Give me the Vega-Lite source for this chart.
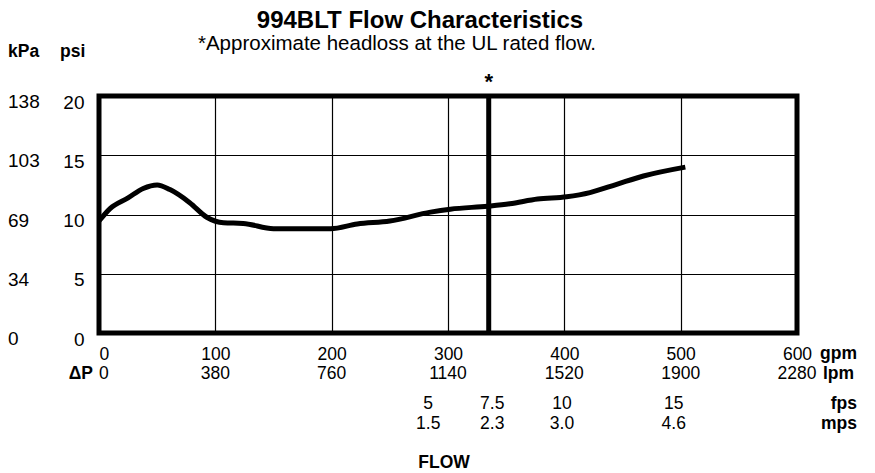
{
  "$schema": "https://vega.github.io/schema/vega-lite/v6.json",
  "width": 698,
  "height": 237,
  "autosize": {"type": "none"},
  "padding": {"left": 99, "top": 96, "right": 78, "bottom": 140},
  "background": "white",
  "title": {
    "text": "994BLT Flow Characteristics",
    "frame": "group",
    "anchor": "middle",
    "dx": -28,
    "offset": -18,
    "baseline": "alphabetic",
    "font": "Liberation Sans",
    "fontSize": 24,
    "fontWeight": "bold",
    "color": "black"
  },
  "config": {
    "view": {"stroke": "black", "strokeWidth": 5},
    "text": {"font": "Liberation Sans", "fontSize": 17.5, "color": "black", "baseline": "alphabetic"}
  },
  "layer": [
    {
      "data": {"values": [
        {"gpm": 0, "psi": 9.45},
        {"gpm": 9.5, "psi": 10.5},
        {"gpm": 25, "psi": 11.4},
        {"gpm": 38, "psi": 12.2},
        {"gpm": 50, "psi": 12.5},
        {"gpm": 61, "psi": 12.1},
        {"gpm": 78, "psi": 11.0},
        {"gpm": 93, "psi": 9.75},
        {"gpm": 107, "psi": 9.3},
        {"gpm": 124, "psi": 9.25},
        {"gpm": 150, "psi": 8.8},
        {"gpm": 199, "psi": 8.8},
        {"gpm": 222, "psi": 9.2},
        {"gpm": 250, "psi": 9.45},
        {"gpm": 285, "psi": 10.2},
        {"gpm": 302, "psi": 10.45},
        {"gpm": 334, "psi": 10.7},
        {"gpm": 353, "psi": 10.9},
        {"gpm": 377, "psi": 11.3},
        {"gpm": 402, "psi": 11.5},
        {"gpm": 422, "psi": 11.85},
        {"gpm": 445, "psi": 12.55},
        {"gpm": 468, "psi": 13.25},
        {"gpm": 504, "psi": 14.0}
      ]},
      "mark": {"type": "line", "color": "black", "strokeWidth": 5, "interpolate": "monotone", "strokeCap": "butt"},
      "encoding": {
        "x": {
          "field": "gpm", "type": "quantitative",
          "scale": {"domain": [0, 600], "nice": false},
          "axis": {
            "values": [0, 100, 200, 300, 400, 500, 600],
            "title": null, "grid": true, "gridColor": "black", "gridWidth": 1.2, "gridOpacity": 1,
            "domain": false, "ticks": false, "tickSize": 0,
            "labelFont": "Liberation Sans",
            "labelFontSize": 17.5, "labelColor": "black", "labelPadding": 12, "labelFlush": false, "labelOverlap": false,
            "labelAlign": {"expr": "datum.value == 0 ? 'left' : 'center'"}
          }
        },
        "y": {
          "field": "psi", "type": "quantitative",
          "scale": {"domain": [0, 20], "nice": false},
          "axis": {
            "values": [0, 5, 10, 15, 20],
            "title": null, "grid": true, "gridColor": "black", "gridWidth": 1.2, "gridOpacity": 1,
            "domain": false, "ticks": false, "tickSize": 0,
            "labelFont": "Liberation Sans",
            "labelFontSize": 19, "labelColor": "black", "labelPadding": 15, "labelOffset": 6, "labelOverlap": false
          }
        }
      }
    },
    {
      "data": {"values": [{"gpm": 335, "note": "*"}]},
      "mark": {"type": "rule", "color": "black", "strokeWidth": 5},
      "encoding": {"x": {"field": "gpm", "type": "quantitative"}}
    },
    {
      "data": {"values": [{"gpm": 335, "note": "*"}]},
      "mark": {"type": "text", "fontWeight": "bold", "fontSize": 22, "dy": -7, "align": "center"},
      "encoding": {"x": {"field": "gpm", "type": "quantitative"}, "y": {"datum": 20}, "text": {"field": "note"}}
    },
    {
      "data": {"values": [{"t": "*Approximate headloss at the UL rated flow."}]},
      "mark": {"type": "text", "fontSize": 20.5, "dx": -51, "dy": -46, "align": "center"},
      "encoding": {"x": {"datum": 300}, "y": {"datum": 20}, "text": {"field": "t"}}
    },
    {
      "data": {"values": [
        {"psi": 20, "kPa": "138"},
        {"psi": 15, "kPa": "103"},
        {"psi": 10, "kPa": "69"},
        {"psi": 5, "kPa": "34"},
        {"psi": 0, "kPa": "0"}
      ]},
      "mark": {"type": "text", "align": "left", "baseline": "middle", "fontSize": 19, "dx": -91, "dy": 6},
      "encoding": {"x": {"datum": 0}, "y": {"field": "psi", "type": "quantitative"}, "text": {"field": "kPa"}}
    },
    {
      "data": {"values": [
        {"gpm": 100, "lpm": "380"},
        {"gpm": 200, "lpm": "760"},
        {"gpm": 300, "lpm": "1140"},
        {"gpm": 400, "lpm": "1520"},
        {"gpm": 500, "lpm": "1900"},
        {"gpm": 600, "lpm": "2280"}
      ]},
      "mark": {"type": "text", "align": "center", "dy": 46},
      "encoding": {"x": {"field": "gpm", "type": "quantitative"}, "y": {"datum": 0}, "text": {"field": "lpm"}}
    },
    {
      "data": {"values": [{"gpm": 0, "lpm": "0"}]},
      "mark": {"type": "text", "align": "left", "dy": 46},
      "encoding": {"x": {"field": "gpm", "type": "quantitative"}, "y": {"datum": 0}, "text": {"field": "lpm"}}
    },
    {
      "data": {"values": [
        {"gpm": 283, "fps": "5", "mps": "1.5"},
        {"gpm": 338, "fps": "7.5", "mps": "2.3"},
        {"gpm": 398, "fps": "10", "mps": "3.0"},
        {"gpm": 494, "fps": "15", "mps": "4.6"}
      ]},
      "mark": {"type": "text", "align": "center", "dy": 76},
      "encoding": {"x": {"field": "gpm", "type": "quantitative"}, "y": {"datum": 0}, "text": {"field": "fps"}}
    },
    {
      "data": {"values": [
        {"gpm": 283, "fps": "5", "mps": "1.5"},
        {"gpm": 338, "fps": "7.5", "mps": "2.3"},
        {"gpm": 398, "fps": "10", "mps": "3.0"},
        {"gpm": 494, "fps": "15", "mps": "4.6"}
      ]},
      "mark": {"type": "text", "align": "center", "dy": 96},
      "encoding": {"x": {"field": "gpm", "type": "quantitative"}, "y": {"datum": 0}, "text": {"field": "mps"}}
    },
    {
      "data": {"values": [{"u": "kPa"}]},
      "mark": {"type": "text", "fontWeight": "bold", "align": "left", "dx": -91, "dy": -39},
      "encoding": {"x": {"datum": 0}, "y": {"datum": 20}, "text": {"field": "u"}}
    },
    {
      "data": {"values": [{"u": "psi"}]},
      "mark": {"type": "text", "fontWeight": "bold", "align": "left", "dx": -39, "dy": -39},
      "encoding": {"x": {"datum": 0}, "y": {"datum": 20}, "text": {"field": "u"}}
    },
    {
      "data": {"values": [{"u": "gpm"}]},
      "mark": {"type": "text", "fontWeight": "bold", "align": "left", "dx": 23, "dy": 26},
      "encoding": {"x": {"datum": 600}, "y": {"datum": 0}, "text": {"field": "u"}}
    },
    {
      "data": {"values": [{"u": "lpm"}]},
      "mark": {"type": "text", "fontWeight": "bold", "align": "left", "dx": 26, "dy": 46},
      "encoding": {"x": {"datum": 600}, "y": {"datum": 0}, "text": {"field": "u"}}
    },
    {
      "data": {"values": [{"u": "fps"}]},
      "mark": {"type": "text", "fontWeight": "bold", "align": "right", "dx": 60, "dy": 76},
      "encoding": {"x": {"datum": 600}, "y": {"datum": 0}, "text": {"field": "u"}}
    },
    {
      "data": {"values": [{"u": "mps"}]},
      "mark": {"type": "text", "fontWeight": "bold", "align": "right", "dx": 60, "dy": 96},
      "encoding": {"x": {"datum": 600}, "y": {"datum": 0}, "text": {"field": "u"}}
    },
    {
      "data": {"values": [{"u": "ΔP"}]},
      "mark": {"type": "text", "fontWeight": "bold", "align": "right", "dx": -6, "dy": 46},
      "encoding": {"x": {"datum": 0}, "y": {"datum": 0}, "text": {"field": "u"}}
    },
    {
      "data": {"values": [{"u": "FLOW"}]},
      "mark": {"type": "text", "fontWeight": "bold", "align": "center", "dx": -4, "dy": 135},
      "encoding": {"x": {"datum": 300}, "y": {"datum": 0}, "text": {"field": "u"}}
    }
  ]
}
